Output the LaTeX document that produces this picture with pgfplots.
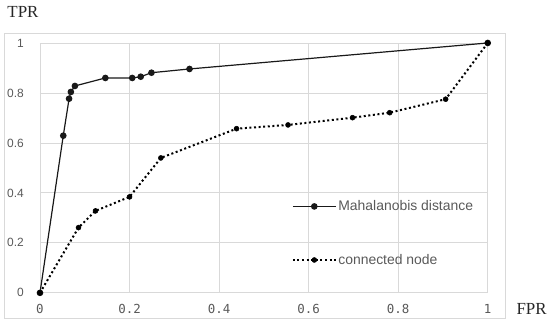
\documentclass[border=0pt]{standalone}
\usepackage{fontspec}
\setmainfont{Liberation Sans}
\newfontfamily\tickmono{DejaVu Sans Mono}
\newfontfamily\labserif{Liberation Serif}
\usepackage{pgfplots}
\pgfplotsset{compat=1.18}
\definecolor{gridgray}{HTML}{D9D9D9}
\definecolor{txtgray}{HTML}{595959}
\begin{document}
\begin{tikzpicture}
\begin{axis}[
  scale only axis, width=448bp, height=250bp,
  xmin=0, xmax=1, ymin=0, ymax=1,
  xtick={0,0.2,0.4,0.6,0.8,1},
  xticklabels={0,0.2,0.4,0.6,0.8,1},
  ytick={0,0.2,0.4,0.6,0.8,1},
  yticklabels={0,0.2,0.4,0.6,0.8,1},
  grid=major,
  major grid style={gridgray, line width=0.8bp},
  axis line style={gridgray, line width=0.8bp},
  major tick length=0pt,
  xticklabel style={font=\tickmono\fontsize{12.5}{13}\selectfont, text=txtgray, inner sep=0pt, yshift=-11bp},
  yticklabel style={font=\fontsize{12}{13}\selectfont, text=txtgray, inner sep=0pt, xshift=-16bp},
  clip=false,
  legend cell align=left,
  legend style={at={(axis cs:0.562,0.2387)}, anchor=west, draw=none, fill=none, inner sep=0pt,
    row sep=39bp, font=\fontsize{14}{15}\selectfont, text=txtgray,
    nodes={inner sep=1.5bp}},
  legend image code/.code={\draw[mark repeat=2,mark phase=2,#1] plot coordinates {(0bp,0bp) (21.5bp,0bp) (43bp,0bp)};},
]
\path (rel axis cs:-0.0893,-0.12) rectangle (rel axis cs:1.1384,1.172);
\draw[gridgray, line width=0.8bp] (rel axis cs:-0.0804,-0.104) rectangle (rel axis cs:1.040,1.04);
\addplot[black!90, line width=1.2bp, mark=*, mark size=2.7pt, mark options={solid}] coordinates {
  (0,0) (0.052,0.629) (0.065,0.777) (0.069,0.804) (0.078,0.828) (0.146,0.86)
  (0.206,0.86) (0.225,0.865) (0.249,0.881) (0.334,0.896) (1,1)
};
\addlegendentry{Mahalanobis distance}
\addplot[black, line width=2bp, dash pattern=on 2bp off 2.6bp, mark=*, mark size=2.5pt, mark options={solid, line width=0.5bp}] coordinates {
  (0,0) (0.086,0.261) (0.124,0.328) (0.2,0.384) (0.27,0.54) (0.439,0.657)
  (0.554,0.672) (0.698,0.701) (0.781,0.721) (0.906,0.775) (1,1)
};
\addlegendentry{connected node}
\node[font=\labserif\fontsize{17}{18}\selectfont, text=black!85] at (rel axis cs:-0.038,1.124) {TPR};
\node[font=\labserif\fontsize{17}{18}\selectfont, text=black!85] at (rel axis cs:1.098,-0.064) {FPR};
\end{axis}
\end{tikzpicture}
\end{document}
